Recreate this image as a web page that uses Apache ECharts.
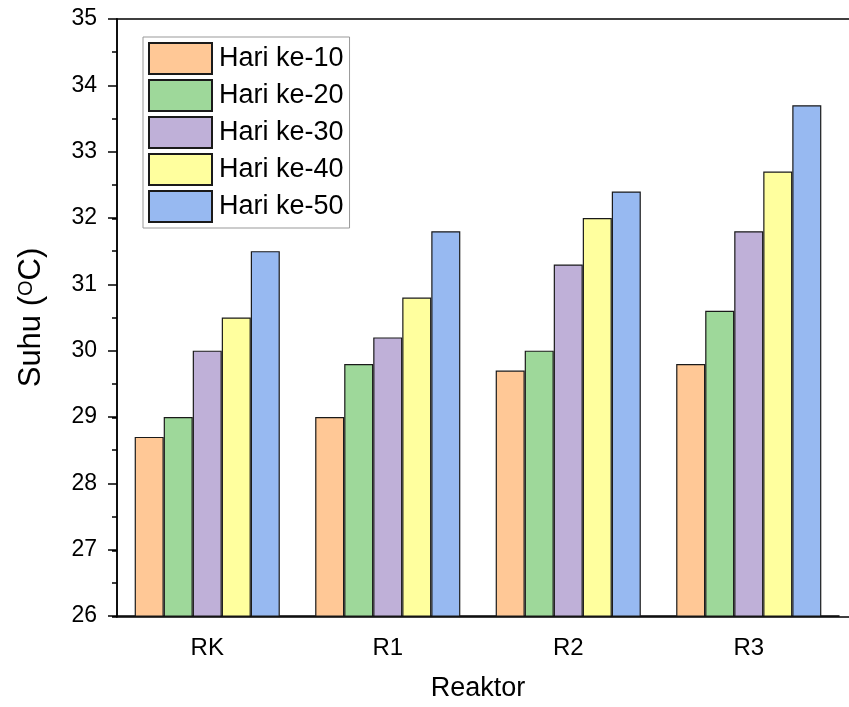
<!DOCTYPE html>
<html lang="id">
  <head>
    <meta charset="UTF-8" />
    <title>Suhu per Reaktor</title>
    <script src="https://cdn.jsdelivr.net/npm/echarts@6.0.0/dist/echarts.min.js"></script>
    <style>
      html, body { margin: 0; padding: 0; background: #fff; }
      #main { width: 849px; height: 707px; }
    </style>
  </head>
  <body>
    <div id="main"></div>
    <script>
      var categories = ["RK", "R1", "R2", "R3"];
      var seriesNames = ["Hari ke-10", "Hari ke-20", "Hari ke-30", "Hari ke-40", "Hari ke-50"];
      var hari10 = [28.7, 29.0, 29.7, 29.8];
      var hari20 = [29.0, 29.8, 30.0, 30.6];
      var hari30 = [30.0, 30.2, 31.3, 31.8];
      var hari40 = [30.5, 30.8, 32.0, 32.7];
      var hari50 = [31.5, 31.8, 32.4, 33.7];
      var colors = ["#FFC896", "#9ED89A", "#BFB0D8", "#FFFF9E", "#97B9F1"];

      var font = "'Liberation Sans', Arial, sans-serif";
      var values = [hari10, hari20, hari30, hari40, hari50];
      var line = { lineStyle: { color: "#000", width: 1.5 } };

      var myChart = echarts.init(document.getElementById("main"));

      var option = {
        animation: false,
        textStyle: { fontFamily: font },
        grid: [
          { left: 117, right: 10, top: 19, bottom: 90 },
          // frame continues a little past the last category
          { left: 117, right: -2, top: 19, bottom: 90 }
        ],
        legend: {
          orient: "vertical",
          left: 143,
          top: 37,
          padding: [5, 6, 5, 5],
          itemWidth: 63,
          itemHeight: 31,
          itemGap: 4,
          icon: "rect",
          borderColor: "#999",
          borderWidth: 1,
          textStyle: { fontSize: 27, color: "#000", fontFamily: font, padding: [0, 0, 0, 2] },
          data: seriesNames
        },
        xAxis: [
          {
            type: "category", data: categories, gridIndex: 0, position: "bottom",
            axisLine: line,
            axisTick: { alignWithLabel: true, length: 9, lineStyle: { width: 1.5 } },
            axisLabel: { fontSize: 24, color: "#000", margin: 20 },
            name: "Reaktor", nameLocation: "middle", nameGap: 59,
            nameTextStyle: { fontSize: 27, color: "#000" }
          },
          {
            type: "category", data: categories, gridIndex: 0, position: "bottom",
            axisLine: { show: false },
            axisTick: { length: 5, lineStyle: { color: "#000", width: 1.5 } },
            axisLabel: { show: false }
          },
          {
            type: "category", data: categories, gridIndex: 0, position: "top",
            axisLine: { show: false },
            axisTick: { alignWithLabel: true, inside: true, length: 10, lineStyle: { color: "#000", width: 1.5 } },
            axisLabel: { show: false }
          },
          {
            type: "category", data: categories, gridIndex: 0, position: "top",
            axisLine: { show: false },
            axisTick: { inside: true, length: 5, lineStyle: { color: "#000", width: 1.5 } },
            axisLabel: { show: false }
          },
          {
            type: "value", gridIndex: 1, position: "top", min: 0, max: 1,
            axisLine: line, axisTick: { show: false }, axisLabel: { show: false }, splitLine: { show: false }
          },
          {
            type: "value", gridIndex: 1, position: "bottom", min: 0, max: 1,
            axisLine: line, axisTick: { show: false }, axisLabel: { show: false }, splitLine: { show: false }
          }
        ],
        yAxis: [
          {
            type: "value", gridIndex: 0, position: "left",
            min: 26, max: 35, interval: 1,
            axisLine: { show: true, lineStyle: { color: "#000", width: 1.5 } },
            axisTick: { show: true, length: 9, lineStyle: { width: 1.5 } },
            minorTick: { show: true, splitNumber: 2, length: 5, lineStyle: { color: "#000", width: 1.5 } },
            axisLabel: { fontSize: 23, color: "#000", margin: 20 },
            splitLine: { show: false },
            name: "{a|Suhu (}{s|O}{a|C)}",
            nameLocation: "middle", nameRotate: 90, nameGap: 70,
            nameTextStyle: {
              color: "#000",
              rich: {
                a: { fontSize: 31, color: "#000", fontFamily: font },
                s: { fontSize: 20, color: "#000", fontFamily: font, verticalAlign: "top", padding: [0, 0, 11, 0] }
              }
            }
          },
          {
            type: "value", gridIndex: 1, position: "right",
            min: 26, max: 35, interval: 1,
            axisLine: { show: true, lineStyle: { color: "#000", width: 1.5 } },
            axisTick: { show: true, inside: true, length: 5, lineStyle: { width: 1.5 } },
            axisLabel: { show: false },
            splitLine: { show: false }
          }
        ],
        series: seriesNames.map(function (name, i) {
          return {
            name: name,
            type: "bar",
            xAxisIndex: 0,
            yAxisIndex: 0,
            data: values[i],
            barGap: "0%",
            barCategoryGap: "19.6%",
            itemStyle: { color: colors[i], borderColor: "#1a1a1a", borderWidth: 1.2 }
          };
        })
      };

      myChart.setOption(option);
    </script>
  </body>
</html>
